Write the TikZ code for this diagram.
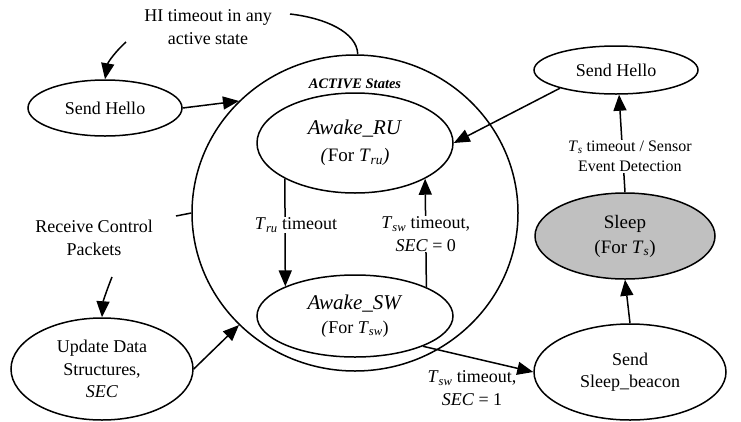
\documentclass[tikz,border=0pt]{standalone}
\usepackage{fontspec}
\setmainfont{Liberation Serif}
\usetikzlibrary{shapes.geometric,arrows.meta}
\definecolor{sleepgray}{RGB}{192,192,192}
\begin{document}
\begin{tikzpicture}[x=1pt,y=-1pt,
  st/.style={ellipse,draw,line width=1.5pt,inner sep=0pt,align=center,font=\fontsize{18}{22.5}\selectfont},
  lbl/.style={align=center,font=\fontsize{18}{22.5}\selectfont,inner sep=1pt},
  smlbl/.style={align=center,font=\fontsize{16}{20}\selectfont,inner sep=1pt},
  arr/.style={line width=1.5pt,-{Triangle[length=16pt,width=13pt]}},
  ln/.style={line width=1.5pt}]
\useasboundingbox (0,0) rectangle (741,421);

% states
\node[st,minimum width=326pt,minimum height=316pt] (active) at (355,213) {};
\node[font=\fontsize{14.5}{17}\selectfont\bfseries\itshape] (actlbl) at (355,84) {ACTIVE States};
\node[st,minimum width=196pt,minimum height=100pt,font=\fontsize{21}{27}\selectfont] (ru) at (355,143)
  {\textit{Awake\_RU}\\\fontsize{19}{23}\selectfont\textit{(}For \textit{T}\textsubscript{\textit{ru}}\textit{)}};
\node[st,minimum width=196pt,minimum height=82pt,font=\fontsize{21}{24}\selectfont] (sw) at (355,316)
  {\textit{Awake\_SW}\\\fontsize{18}{22}\selectfont\textit{(}For \textit{T}\textsubscript{\textit{sw}})};
\node[st,minimum width=154pt,minimum height=56pt] (shl) at (105,108) {Send Hello};
\node[st,minimum width=164pt,minimum height=48pt] (shr) at (616,70) {Send Hello};
\node[st,minimum width=182pt,minimum height=102pt] (upd) at (102,369) {Update Data\\Structures,\\\textit{SEC}};
\node[st,fill=sleepgray,minimum width=180pt,minimum height=86pt,font=\fontsize{19}{25}\selectfont] (sleep) at (625,236)
  {Sleep\\(For \textit{T}\textsubscript{\textit{s}})};
\node[st,minimum width=192pt,minimum height=96pt] (beacon) at (630,372) {Send\\Sleep\_beacon};

% free labels
\node[lbl] (hi) at (208,27) {HI timeout in any\\active state};
\node[lbl] (rcv) at (94,238) {Receive Control\\Packets};
\coordinate (hiA) at (290,14);
\coordinate (hiB) at (126,42);
\coordinate (rcvA) at (176,216);
\coordinate (rcvB) at (112,277);

% connectors
\draw[ln] (active.89) .. controls (357,32) and (325,18) .. (hiA);
\draw[arr] (hiB) .. controls (116,51) and (108,62) .. (shl.north);
\draw[ln] (active.180) -- (rcvA);
\draw[arr] (rcvB) .. controls (106,292) and (103,302) .. (upd.north);
\draw[arr] (shl.east) -- (active.136.8);
\draw[arr] (upd.east) -- (active.224.3);

\draw[arr] (ru.207.2) -- node[lbl,fill=white,pos=0.43,xshift=11pt] (trul) {\textit{T}\textsubscript{\textit{ru}} timeout} (sw.157.1);
\draw[arr] (sw.22.3) -- node[lbl,fill=white,pos=0.49] (tswl) {\textit{T}\textsubscript{\textit{sw}} timeout,\\\textit{SEC} = 0} (ru.333.4);
\draw[arr] (sw.336.9) -- (beacon.west);
\node[lbl] (tsw1) at (472,388) {\textit{T}\textsubscript{\textit{sw}} timeout,\\\textit{SEC} = 1};
\draw[arr] (beacon.north) -- (sleep.south);
\draw[arr] (sleep.north) -- node[smlbl,fill=white,pos=0.37,xshift=7pt] (tsl) {\textit{T}\textsubscript{\textit{s}} timeout / Sensor\\Event Detection} (shr.277);
\draw[arr] (shr.198) -- (ru.east);
\end{tikzpicture}
\end{document}
